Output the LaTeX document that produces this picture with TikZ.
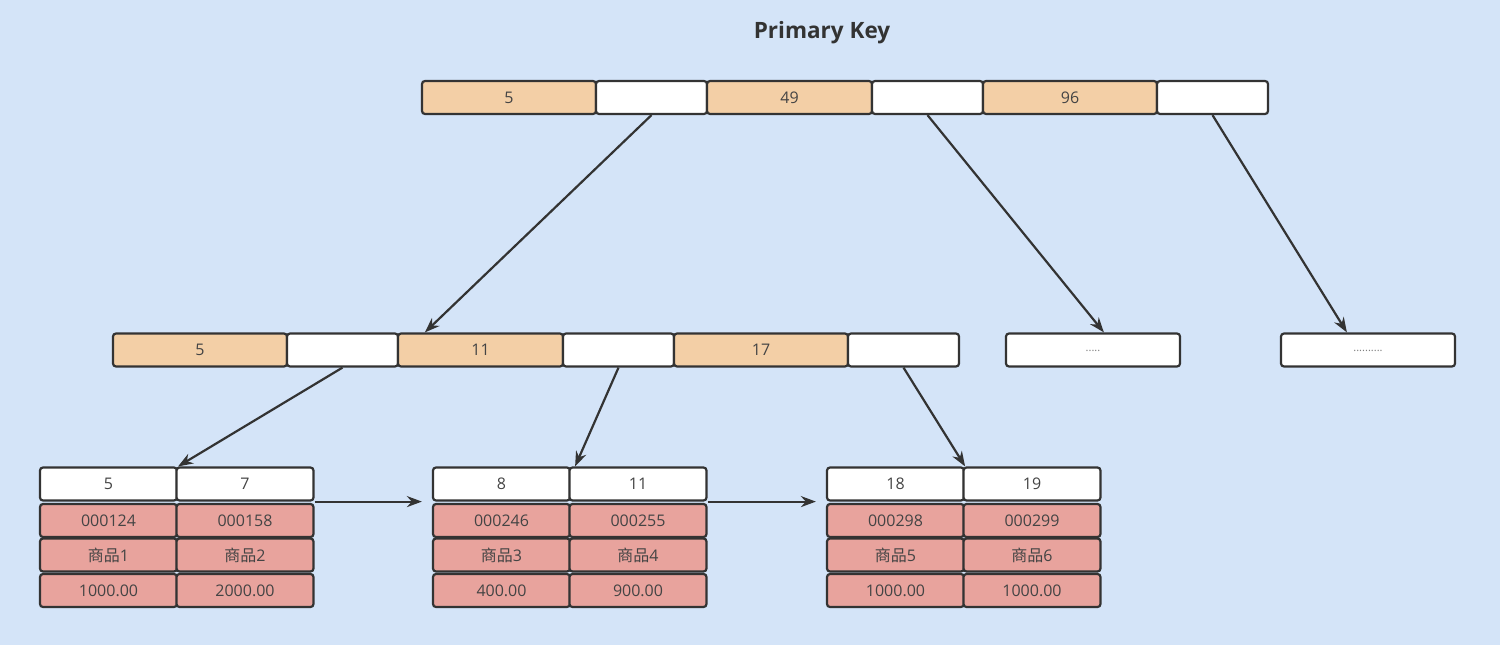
\documentclass[tikz,border=0pt]{standalone}
\usepackage{fontspec}
\setmainfont{Open Sans}
\newfontfamily\cjk{Noto Sans CJK SC}
\usetikzlibrary{arrows.meta}
\definecolor{bgblue}{HTML}{D4E4F8}
\definecolor{keyorange}{HTML}{F3CFA6}
\definecolor{rowpink}{HTML}{E8A39D}
\definecolor{edgegray}{HTML}{333333}
\definecolor{txtgray}{HTML}{444444}
\tikzset{
  cell/.style={draw=edgegray, line width=2.2pt, rounded corners=3pt, minimum height=33pt,
    inner sep=0pt, text=txtgray, font=\fontsize{16}{16}\selectfont},
  keycell/.style={cell, fill=keyorange},
  ptrcell/.style={cell, fill=white, minimum width=111pt},
  leafkey/.style={cell, fill=white, minimum width=137pt},
  leafrow/.style={cell, fill=rowpink, minimum width=137pt},
  link/.style={draw=edgegray, line width=2.2pt, -{Stealth[length=15pt,width=11pt]}}
}
\begin{document}
\begin{tikzpicture}[x=1pt,y=-1pt]
\fill[bgblue] (0,0) rectangle (1500,645);
\node[font=\bfseries\fontsize{22.5}{22.5}\selectfont, text=edgegray] (title) at (822,33) {Primary Key};
% root page
\node[keycell, minimum width=174pt] (t1) at (509,97.5) {5};
\node[ptrcell] (tp1) at (651.5,97.5) {};
\node[keycell, minimum width=165pt] (t2) at (789.5,97.5) {49};
\node[ptrcell] (tp2) at (927.5,97.5) {};
\node[keycell, minimum width=174pt] (t3) at (1070,97.5) {96};
\node[ptrcell] (tp3) at (1212.5,97.5) {};
% second level
\node[keycell, minimum width=174pt] (m1) at (200,350) {5};
\node[ptrcell] (mp1) at (342.5,350) {};
\node[keycell, minimum width=165pt] (m2) at (480.5,350) {11};
\node[ptrcell] (mp2) at (618.5,350) {};
\node[keycell, minimum width=174pt] (m3) at (761,350) {17};
\node[ptrcell] (mp3) at (903.5,350) {};
\node[ptrcell, minimum width=174pt, font=\fontsize{11}{11}\selectfont, text=gray] (dots1) at (1093,350) {\raisebox{-4pt}{.....}};
\node[ptrcell, minimum width=174pt, font=\fontsize{11}{11}\selectfont, text=gray] (dots2) at (1368,350) {\raisebox{-4pt}{..........}};
% leaf pages
\foreach \n/\lx/\ka/\kb/\ia/\ib/\na/\nb/\pa/\pb in
  {a/40/5/7/000124/000158/1/2/1000.00/2000.00,
   b/433/8/11/000246/000255/3/4/400.00/900.00,
   c/827/18/19/000298/000299/5/6/1000.00/1000.00}{
  \node[leafkey] (\n k1) at (\lx+68.5,484) {\ka};
  \node[leafkey] (\n k2) at (\lx+205,484) {\kb};
  \node[leafrow] (\n i1) at (\lx+68.5,520.5) {\ia};
  \node[leafrow] (\n i2) at (\lx+205,520.5) {\ib};
  \node[leafrow] (\n n1) at (\lx+68.5,555) {{\cjk 商品}\na};
  \node[leafrow] (\n n2) at (\lx+205,555) {{\cjk 商品}\nb};
  \node[leafrow] (\n p1) at (\lx+68.5,590.5) {\pa};
  \node[leafrow] (\n p2) at (\lx+205,590.5) {\pb};
}
% pointers
\draw[link] (tp1.south) -- ([xshift=28pt]m2.north west);
\draw[link] (tp2.south) -- ([xshift=99pt]dots1.north west);
\draw[link] (tp3.south) -- ([xshift=67pt]dots2.north west);
\draw[link] (mp1.south) -- (ak1.north east);
\draw[link] (mp2.south) -- ([xshift=4pt]bk1.north east);
\draw[link] (mp3.south) -- (ck1.north east);
\draw[link] (ak2.south east) -- ([xshift=-10pt]bk1.south west);
\draw[link] (bk2.south east) -- ([xshift=-10pt]ck1.south west);
\end{tikzpicture}
\end{document}
